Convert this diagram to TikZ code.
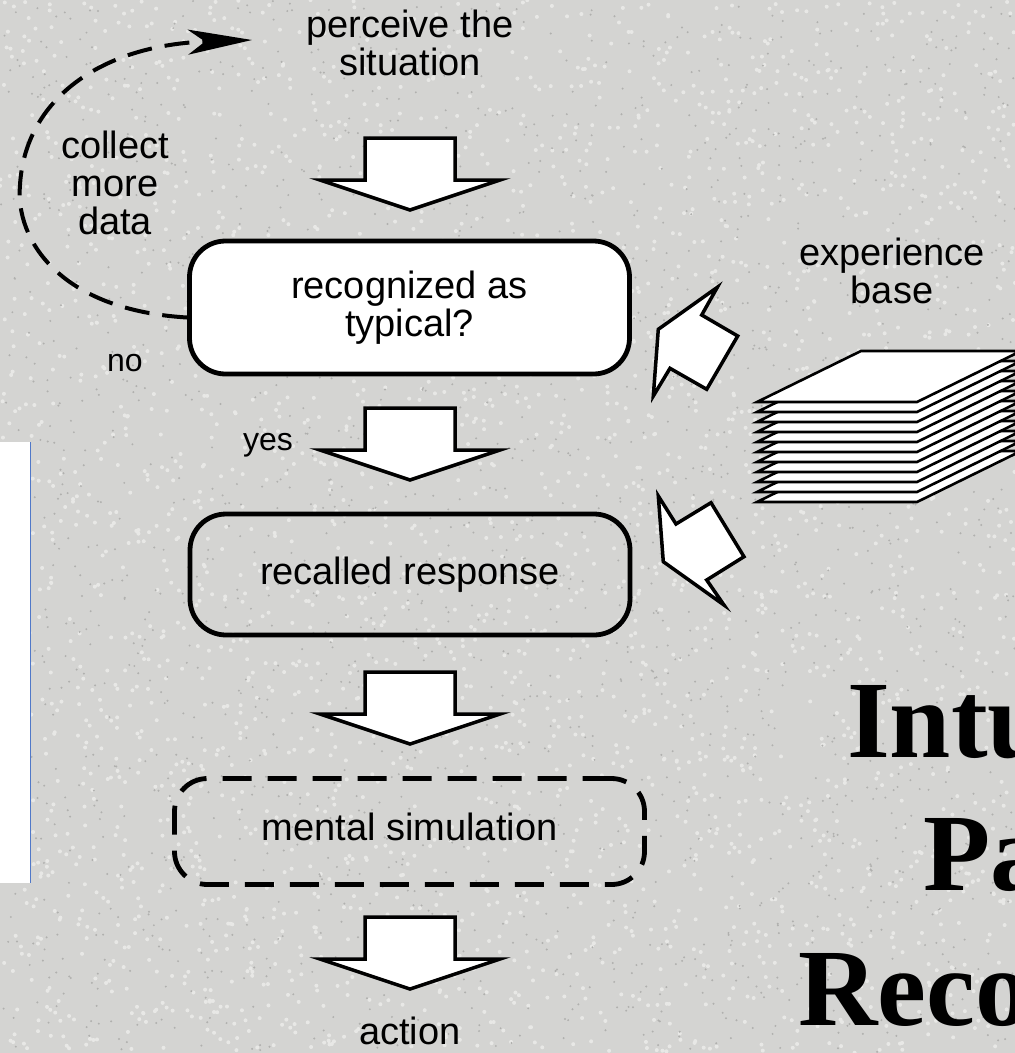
\documentclass[tikz,border=0pt]{standalone}
\usepackage{fontspec}
\setmainfont{Liberation Sans}
\newfontfamily\titlefont{Liberation Serif}
\usetikzlibrary{arrows.meta,calc}
\definecolor{bg}{RGB}{212,212,210}
\definecolor{speckdark}{RGB}{176,176,174}
\definecolor{specklight}{RGB}{232,232,230}
\definecolor{panelblue}{RGB}{80,120,200}
\begin{document}
\begin{tikzpicture}[x=1pt,y=-1pt,
  lbl/.style={font=\fontsize{38}{38}\selectfont, inner sep=0pt, align=center},
  smalllbl/.style={font=\fontsize{32}{32}\selectfont, inner sep=0pt},
  box/.style={draw=black, line width=4.8pt, rounded corners=36pt, inner sep=0pt, align=center, font=\fontsize{38}{38}\selectfont},
  blk/.style={draw=black, fill=white, line width=3.5pt, line join=miter},
  sheet/.style={draw=black, fill=white, line width=2.6pt, line join=miter},
  titletext/.style={font=\titlefont\bfseries\fontsize{110}{110}\selectfont, inner sep=0pt, anchor=base west},
  loopline/.style={line width=4pt, dash pattern=on 25pt off 13pt, -{Stealth[length=64pt,width=25pt,inset=17pt]}},
  downarr/.pic={\draw[blk] (-45,0) -- (45,0) -- (45,42) -- (90,42) -- (0,72) -- (-90,42) -- (-45,42) -- cycle;}
]
\useasboundingbox (0,0) rectangle (1015,1053);
\clip (0,0) rectangle (1015,1053);
% background with granite-like speckle
\fill[bg] (0,0) rectangle (1015,1053);
\pgfmathsetseed{42}
\fill[specklight] \foreach \i in {1,...,3000} {(rnd*1015, rnd*1053) circle (2pt)};
\fill[speckdark] \foreach \i in {1,...,2000} {(rnd*1015, rnd*1053) circle (1.1pt)};
% white side panel
\fill[white] (0,442) rectangle (30,883);
\draw[panelblue, line width=1pt] (30,442) -- (30,883);

% texts (anchor base = baseline of the last line)
\node[lbl, anchor=base] (perceive) at (410,75) {perceive the\\situation};
\node[lbl, anchor=base] (collect) at (115,234) {collect\\more\\data};
\node[smalllbl, anchor=base] (no) at (125,371) {no};
\node[smalllbl, anchor=base] (yes) at (268,450) {yes};
\node[lbl, anchor=base] (exp) at (892,303) {experience\\base};
\node[lbl, anchor=base] (action) at (410,1044) {action};

% boxes
\node[box, fill=white, minimum width=440pt, minimum height=133pt] (rec) at (409.5,307.5) {recognized as\\typical?};
\node[box, minimum width=440pt, minimum height=121pt] (recall) at (410,574.5) {recalled response};
\node[box, dash pattern=on 29pt off 16pt, rounded corners=33pt, minimum width=470pt, minimum height=106pt, text depth=9pt] (mental) at (409.5,831.5) {mental simulation};

% block arrows between steps
\pic at (410,138) {downarr};
\pic at (410,408) {downarr};
\pic at (410,672) {downarr};
\pic at (410,917) {downarr};

% loop back
\coordinate (loopstart) at ($(rec.west)+(0,10)$);
\coordinate (loopend) at (252,40);
\draw[loopline] (loopstart) .. controls (60,310) and (15,240) .. (20,185) .. controls (25,100) and (100,45) .. (loopend);

% experience base stack
\foreach \k in {10,9,...,0} {
  \draw[sheet] (757,402+10*\k) -- (917,402+10*\k) -- (1021,351+10*\k) -- (861,351+10*\k) -- cycle;
}
% skewed arrows from the stack
\draw[blk] (658.3,329.3) -- (717.3,287.3) -- (701.7,315) -- (737.7,336) -- (706.7,389.3) -- (670,368.3) -- (653.3,396) -- cycle;
\draw[blk] (658.3,496) -- (676,524) -- (711,502.7) -- (744,556.7) -- (706.7,580) -- (724,605) -- (663.3,561.7) -- cycle;

% title (cut at right edge)
\node[titletext] (t1) at (847,757) {Intu};
\node[titletext] (t2) at (923,890) {Pa};
\node[titletext] (t3) at (798,1025) {Reco};
\end{tikzpicture}
\end{document}
